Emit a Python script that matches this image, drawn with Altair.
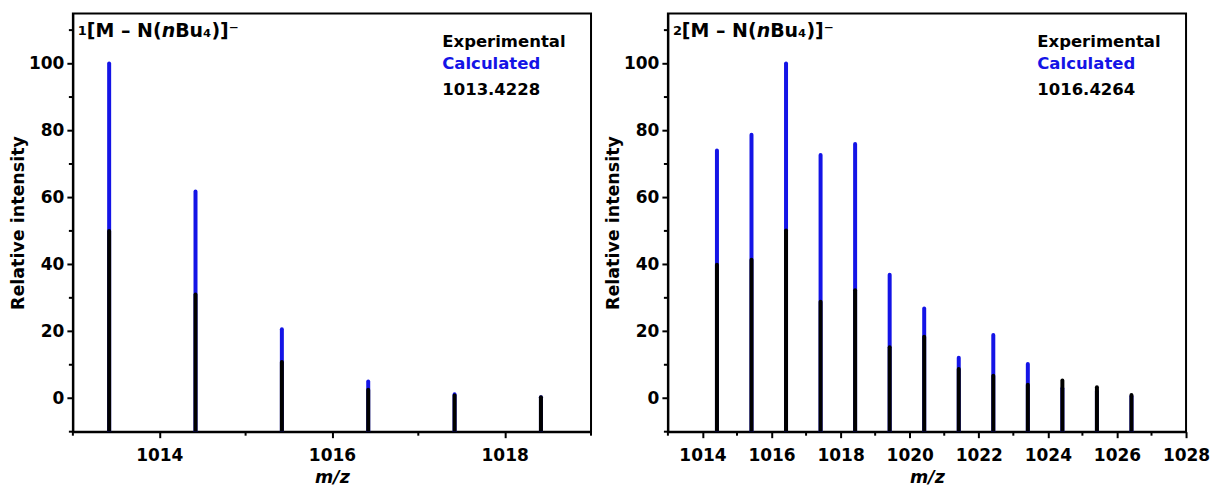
import altair as alt
import pandas as pd

# ---------------- data ----------------
mz_1 = [1013.42, 1014.42, 1015.42, 1016.42, 1017.42, 1018.42]
calc_1 = [100.0, 61.8, 20.6, 5.0, 1.2, 0.3]
exp_1 = [50.0, 31.0, 10.8, 2.5, 0.8, 0.3]

mz_2 = [1014.42, 1015.42, 1016.42, 1017.42, 1018.42, 1019.42, 1020.42,
        1021.42, 1022.42, 1023.42, 1024.42, 1025.42, 1026.42]
calc_2 = [74.0, 78.7, 100.0, 72.7, 76.0, 36.9, 26.8, 12.1, 18.9, 10.2, 3.0, 2.0, 0.6]
exp_2 = [39.9, 41.4, 50.1, 28.8, 32.3, 15.2, 18.4, 8.7, 6.7, 4.0, 5.3, 3.3, 1.0]

x_domain_1 = [1013, 1019]
x_domain_2 = [1013, 1028]
y_domain = [-10, 115]

x_major_1 = [1014, 1016, 1018]
x_minor_1 = [1013, 1015, 1017, 1019]
x_major_2 = [1014, 1016, 1018, 1020, 1022, 1024, 1026, 1028]
x_minor_2 = [1013, 1015, 1017, 1019, 1021, 1023, 1025, 1027]
y_major = [0, 20, 40, 60, 80, 100]
y_minor = [-10, 10, 30, 50, 70, 90, 110]

panel_numbers = ["1", "2"]
legend_labels = ["Experimental", "Calculated"]
masses = ["1013.4228", "1016.4264"]

FONT = "DejaVu Sans"
BLUE = "#1414e6"
W, H = 519, 419


def panel(mz, calc, exp, xdom, xmaj, xmin, num, mass):
    df = pd.DataFrame({"mz": mz, "calc": calc, "exp": exp})
    xs = alt.Scale(domain=xdom, nice=False, zero=False)
    ys = alt.Scale(domain=y_domain, nice=False, zero=False)
    xaxis = alt.Axis(
        values=xmaj, format="d", tickSize=6, title="m/z",
        labelFlush=False, labelOverlap=False, labelPadding=10, titlePadding=5,
        titleFontStyle="italic",
    )
    yaxis = alt.Axis(
        values=y_major, format="d", tickSize=6, title="Relative intensity",
        labelOverlap=False, labelPadding=3, titlePadding=1, labelFlush=False,
    )
    X = lambda f: alt.X(f, scale=xs, axis=xaxis)
    Y = lambda f: alt.Y(f, scale=ys, axis=yaxis)

    base = alt.Chart(df)
    blue = base.mark_rule(color=BLUE, strokeWidth=4, strokeCap="round", clip=True).encode(
        x=X("mz:Q"), y=Y("calc:Q"), y2=alt.datum(-10),
    )
    black = base.mark_rule(color="black", strokeWidth=4, strokeCap="round", clip=True).encode(
        x=X("mz:Q"), y=Y("exp:Q"), y2=alt.datum(-10),
    )
    xminor = alt.Chart(pd.DataFrame({"v": xmin})).mark_rule(
        color="black", strokeWidth=2
    ).encode(
        x=X("v:Q"), y=alt.value(H), y2=alt.value(H + 4),
    )
    yminor = alt.Chart(pd.DataFrame({"v": y_minor})).mark_rule(
        color="black", strokeWidth=2
    ).encode(
        y=Y("v:Q"), x=alt.value(0), x2=alt.value(-4),
    )
    one = alt.Chart(pd.DataFrame({"a": [0]}))

    def txt(s, x, y, size, color="black", style="normal", baseline="middle"):
        return one.mark_text(
            text=s, font=FONT, fontSize=size, fontWeight="bold", fontStyle=style,
            color=color, align="left", baseline=baseline,
        ).encode(x=alt.value(x), y=alt.value(y))

    F = 19
    x0 = 14
    w1 = 3.942 * F
    w2 = 0.712 * F
    layers = [
        blue, black, xminor, yminor,
        txt(num, 5, 22, 13, baseline="alphabetic"),
        txt("[M – N(", x0, 24, F, baseline="alphabetic"),
        txt("n", x0 + w1, 24, F, style="italic", baseline="alphabetic"),
        txt("Bu₄)]⁻", x0 + w1 + w2, 24, F, baseline="alphabetic"),
        txt(legend_labels[0], 370, 29, 16.5),
        txt(legend_labels[1], 370, 51, 16.5, color=BLUE),
        txt(mass, 370, 77, 16.5),
    ]
    return alt.layer(*layers).properties(width=W, height=H)


left = panel(mz_1, calc_1, exp_1, x_domain_1, x_major_1, x_minor_1, panel_numbers[0], masses[0])
right = panel(mz_2, calc_2, exp_2, x_domain_2, x_major_2, x_minor_2, panel_numbers[1], masses[1])

chart = alt.hconcat(left, right, spacing=10).properties(
    padding={"left": 8, "top": 12, "right": 0, "bottom": 0},
    background="white",
).configure_view(stroke="black", strokeWidth=2).configure_axis(
    domainColor="black", domainWidth=2, tickColor="black", tickWidth=2,
    labelFont=FONT, labelFontSize=17, labelFontWeight="bold", labelColor="black",
    titleFont=FONT, titleFontSize=17.5, titleFontWeight="bold", titleColor="black",
    grid=False,
)

chart.save("out.html", embed_options={"renderer": "svg", "actions": False})
